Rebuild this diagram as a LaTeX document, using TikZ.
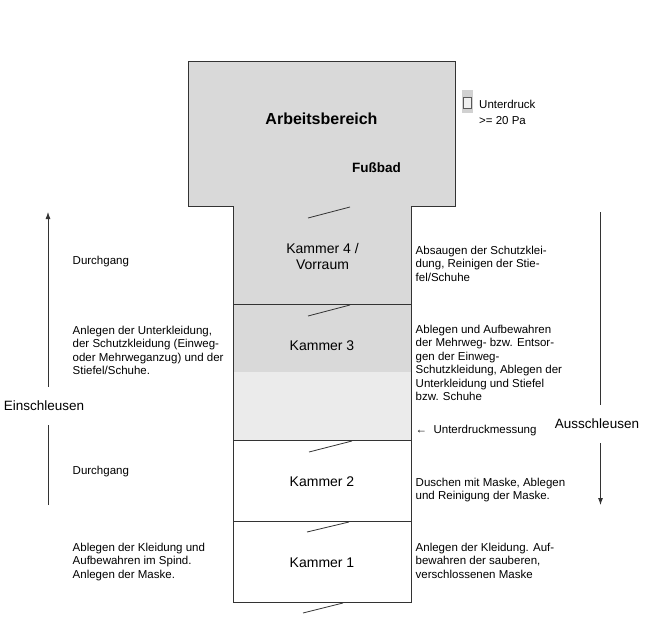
\documentclass[tikz,border=0pt]{standalone}
\usepackage{fontspec}
\setmainfont{Liberation Sans}
\usetikzlibrary{arrows.meta}
\begin{document}
\begin{tikzpicture}[x=1pt,y=-1pt,
  wall/.style={draw=black!80, line width=0.8pt},
  doorline/.style={draw=black!80, line width=0.8pt},
  roomlabel/.style={font=\fontsize{14}{16}\selectfont, align=center, inner sep=0pt},
  boldlabel/.style={font=\fontsize{16}{18}\selectfont\bfseries, inner sep=0pt},
  note/.style={font=\fontsize{11.5}{13.5}\selectfont, align=left, anchor=north west, inner sep=0pt},
  noteline/.style={font=\fontsize{11.5}{13.5}\selectfont, anchor=west, inner sep=0pt},
  sidelabel/.style={font=\fontsize{13.5}{16}\selectfont, inner xsep=0pt, inner ysep=14pt},
  flow/.style={draw=black!80, line width=0.8pt},
  tipstyle/.style={-{Latex[length=7pt,width=5pt]}}
]
\useasboundingbox (0,0) rectangle (650,624);
% shaded areas
\fill[black!15] (188,61) rectangle (455,206);
\fill[black!15] (233,206) rectangle (411,372);
\fill[black!8] (233,372) rectangle (411,440);
% outline
\draw[wall] (188,61) -- (455,61) -- (455,206) -- (411,206) -- (411,602) -- (233,602) -- (233,206) -- (188,206) -- cycle;
\draw[wall] (233,304) -- (411,304);
\draw[wall] (233,440) -- (411,440);
\draw[wall] (233,521) -- (411,521);
% doors
\draw[doorline] (308,218) -- (350,207);
\draw[doorline] (308,316) -- (350,305);
\draw[doorline] (309,452) -- (352,441);
\draw[doorline] (307,532) -- (349,522);
\draw[doorline] (303,613) -- (343,603);
% legend
\fill[black!18] (462,90) rectangle (473,113);
\draw[black!65, fill=black!6, line width=0.6pt] (463.5,97) rectangle (471.5,108);
\node[font=\fontsize{11.5}{16.5}\selectfont, align=left, anchor=north west, inner sep=0pt] (legend) at (479,99.5) {Unterdruck\\>= 20 Pa};
% room labels
\node[boldlabel] (arb) at (321.5,119) {Arbeitsbereich};
\node[font=\fontsize{13.5}{16}\selectfont\bfseries, inner sep=0pt] (fuss) at (376.5,168) {Fußbad};
\node[roomlabel] (k4) at (322.5,256.5) {Kammer 4 /\\Vorraum};
\node[roomlabel] (k3) at (322,346) {Kammer 3};
\node[roomlabel] (k2) at (322,482) {Kammer 2};
\node[roomlabel] (k1) at (322,563) {Kammer 1};
% right notes
\node[note] (r1) at (415.5,245.5) {Absaugen der Schutzklei-\\dung, Reinigen der Stie-\\fel/Schuhe};
\node[note] (r2) at (415.5,324.5) {Ablegen und Aufbewahren\\der Mehrweg- bzw. Entsor-\\gen der Einweg-\\Schutzkleidung, Ablegen der\\Unterkleidung und Stiefel\\bzw. Schuhe};
\node[noteline] (r3) at (415.5,431) {← \ Unterdruckmessung};
\node[note] (r4) at (415.5,477.5) {Duschen mit Maske, Ablegen\\und Reinigung der Maske.};
\node[note] (r5) at (415.5,542.5) {Anlegen der Kleidung. Auf-\\bewahren der sauberen,\\verschlossenen Maske};
% left notes
\node[noteline] (l1) at (72.5,262) {Durchgang};
\node[note] (l2) at (72.5,325.5) {Anlegen der Unterkleidung,\\der Schutzkleidung (Einweg-\\oder Mehrweganzug) und der\\Stiefel/Schuhe.};
\node[noteline] (l3) at (72.5,472) {Durchgang};
\node[note] (l4) at (72.5,542.5) {Ablegen der Kleidung und\\Aufbewahren im Spind.};
\node[noteline] (l5) at (72.5,576) {Anlegen der Maske.};
% flow arrows
\coordinate (einbot) at (48,505);
\coordinate (eintop) at (48,212);
\node[sidelabel] (ein) at (44,406) {Einschleusen};
\draw[flow] (einbot) -- (einbot |- ein.south);
\draw[flow, tipstyle] (eintop |- ein.north) -- (eintop);
\coordinate (austop) at (600.5,212);
\coordinate (ausbot) at (600.5,505);
\node[sidelabel] (aus) at (597,424) {Ausschleusen};
\draw[flow] (austop) -- (austop |- aus.north);
\draw[flow, tipstyle] (ausbot |- aus.south) -- (ausbot);
\end{tikzpicture}
\end{document}
